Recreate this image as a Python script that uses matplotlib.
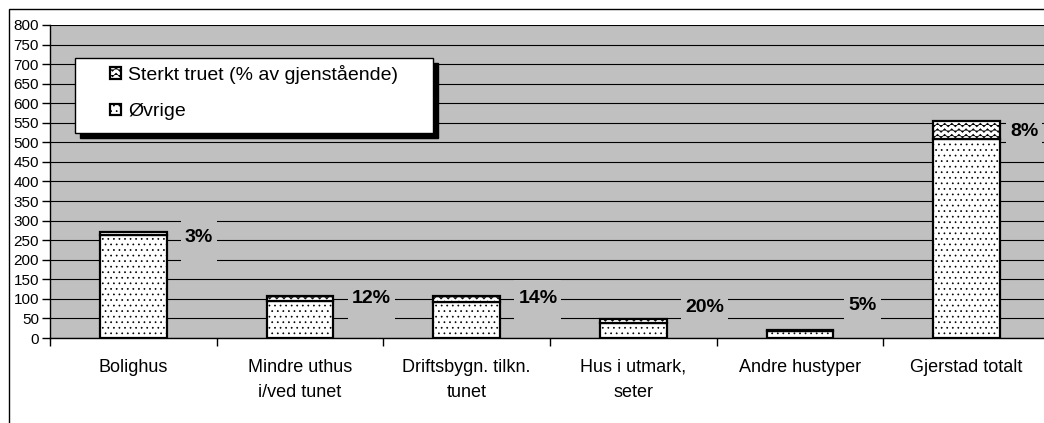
import numpy as np
import matplotlib
matplotlib.use("Agg")
import matplotlib.pyplot as plt
from matplotlib.patches import Rectangle
from matplotlib.path import Path
from matplotlib.transforms import IdentityTransform
import matplotlib.hatch as mhatch

# ---------------- data ----------------
categories = ["Bolighus", "Mindre uthus\ni/ved tunet", "Driftsbygn. tilkn.\ntunet",
              "Hus i utmark,\nseter", "Andre hustyper", "Gjerstad totalt"]
ovrige = [264, 94, 93, 38, 19, 508]
sterkt_truet = [8, 13, 15, 10, 1, 47]
pct_labels = ["3%", "12%", "14%", "20%", "5%", "8%"]
series_names = ["Sterkt truet (% av gjenstående)", "Øvrige"]
yticks = list(range(0, 801, 50))

# ---------------- layout (not data) ----------------
label_y = [256, 100, 102, 79, 84, 527]
label_dx = [0.31, 0.31, 0.31, 0.31, 0.29, 0.26]

plt.rcParams['font.family'] = ['Liberation Sans', 'DejaVu Sans']
plt.rcParams['hatch.linewidth'] = 0.5


class WaveHatch(mhatch.HatchPatternBase):
    """Wavy line hatch triggered by '~'."""
    def __init__(self, hatch, density):
        self.num_rows = int(hatch.count('~') * density)
        self.teeth = 14
        self.pts = self.teeth * 4 + 1
        self.num_vertices = self.num_rows * self.pts

    def set_vertices_and_codes(self, vertices, codes):
        n = self.num_rows
        xs = np.linspace(0, 1, self.pts)
        amp = 0.33 / n
        for i in range(n):
            yc = (i + 0.5) / n
            ys = yc + amp * np.sin(2 * np.pi * self.teeth * xs)
            s = slice(i * self.pts, (i + 1) * self.pts)
            vertices[s, 0] = xs
            vertices[s, 1] = ys
            codes[i * self.pts] = Path.MOVETO
            codes[i * self.pts + 1:(i + 1) * self.pts] = Path.LINETO


mhatch._hatch_types.append(WaveHatch)

W, H = 1044, 423
fig = plt.figure(figsize=(W / 100, H / 100), dpi=100)
fig.patch.set_facecolor('white')

ax = fig.add_axes([50 / W, (H - 338) / H, 1000 / W, 313 / H])
ax.set_facecolor('#C0C0C0')
ax.set_xlim(-0.5, 5.5)
ax.set_ylim(0, 800)

x = np.arange(len(categories))
b_ov = ax.bar(x, ovrige, width=0.4, color='white', edgecolor='black',
              linewidth=1.6, hatch='...', zorder=3)
b_st = ax.bar(x, sterkt_truet, bottom=ovrige, width=0.4, color='white',
              edgecolor='black', linewidth=1.6, hatch='~~~', zorder=3)

# grid
ax.set_yticks(yticks)
ax.yaxis.grid(True, color='black', linewidth=0.8)
ax.set_axisbelow(True)
ax.tick_params(axis='y', direction='out', length=6, width=1, labelsize=11, pad=2)

# x ticks: boundaries (major), labels at centres (minor)
ax.set_xticks(np.arange(-0.5, 6, 1))
ax.set_xticklabels([])
ax.set_xticks(x, minor=True)
ax.set_xticklabels(categories, minor=True)
ax.tick_params(axis='x', which='major', direction='out', length=6, width=1)
ax.tick_params(axis='x', which='minor', length=0, labelsize=13, pad=15)
for lab in ax.get_xticklabels(minor=True):
    lab.set_linespacing(1.6)
    lab.set_verticalalignment('top')

for s in ['top', 'right']:
    ax.spines[s].set_visible(False)
for s in ['left', 'bottom']:
    ax.spines[s].set_color('black')
    ax.spines[s].set_linewidth(1)

# percentage labels
texts = []
for i, t in enumerate(pct_labels):
    texts.append(ax.text(x[i] + label_dx[i], label_y[i], t, ha='left', va='center',
                         fontsize=14, fontweight='bold', zorder=5))

# legend frame with shadow
tf = fig.transFigure
fig.patches.append(Rectangle((80 / W, 1 - 138 / H), 358 / W, 75 / H, transform=tf,
                             facecolor='black', edgecolor='black', zorder=3))
fig.patches.append(Rectangle((75 / W, 1 - 133 / H), 358 / W, 75 / H, transform=tf,
                             facecolor='white', edgecolor='black', linewidth=1, zorder=4))
fig.legend([b_st, b_ov], series_names, loc='upper left',
           bbox_to_anchor=(110 / W, 1 - 65 / H), bbox_transform=tf,
           frameon=False, fontsize=14, handlelength=0.55, handleheight=0.55,
           handletextpad=0.4, labelspacing=1.0, borderpad=0, borderaxespad=0)

# outer chart frame
fig.patches.append(Rectangle((9 / W, -0.1), 1.2, 1.1 - 9 / H, transform=tf,
                             fill=False, edgecolor='black', linewidth=1, zorder=1))

# grey label backgrounds (mask gridlines like the original)
fig.canvas.draw()
for t in texts:
    bb = t.get_window_extent()
    cy = 0.5 * (bb.y0 + bb.y1)
    ax.add_patch(Rectangle((bb.x0 - 4, cy - 26), bb.width + 8, 44,
                           transform=IdentityTransform(), facecolor='#C0C0C0',
                           edgecolor='none', zorder=4))

fig.savefig('out.png', dpi=100)
